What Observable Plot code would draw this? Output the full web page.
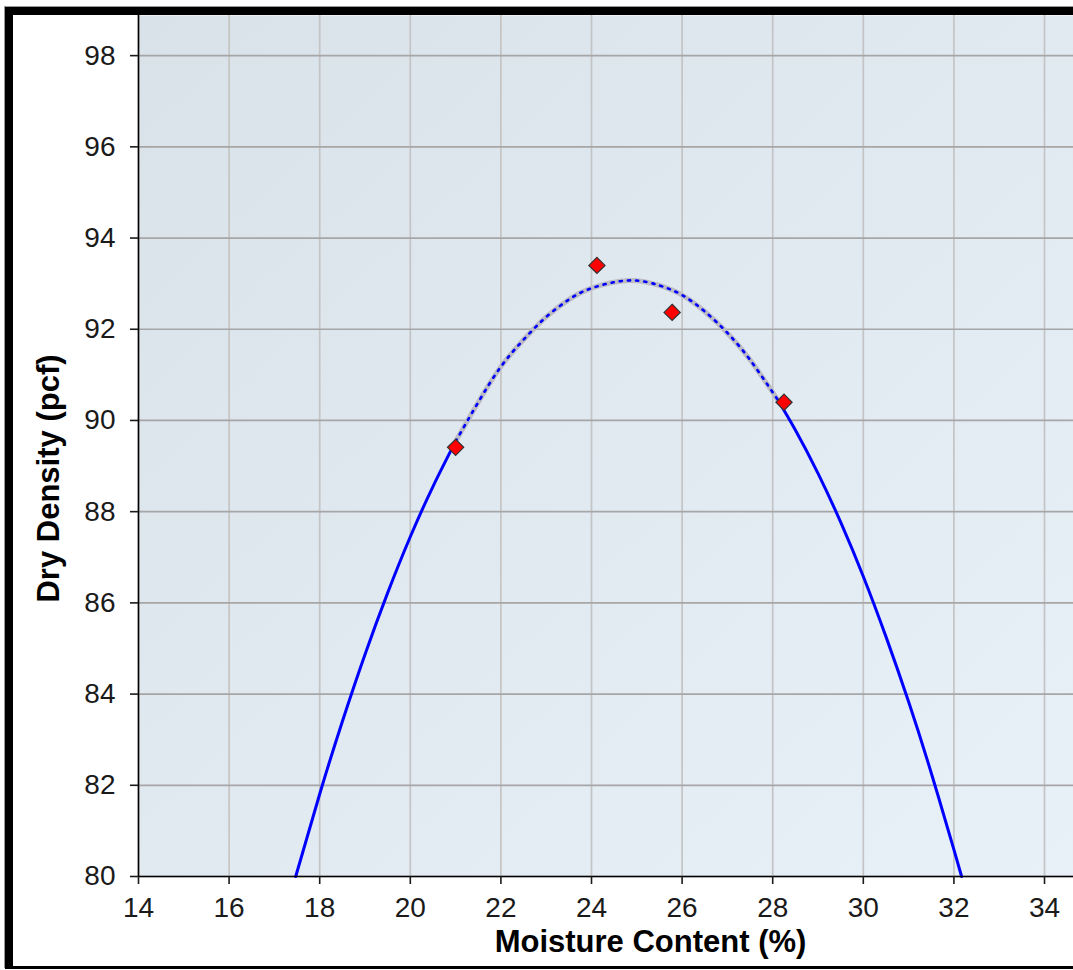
<!DOCTYPE html>
<html>
<head>
<meta charset="utf-8">
<script src="https://cdn.jsdelivr.net/npm/d3@7"></script>
<script src="https://cdn.jsdelivr.net/npm/@observablehq/plot@0.6"></script>
<style>
  html, body { margin: 0; padding: 0; background: #fff; overflow: hidden; }
  #frame {
    position: absolute; left: 5px; top: 7px;
    width: 1080px; height: 951px;
    border-top: 8px solid #000; border-left: 8px solid #000; border-bottom: 3px solid #000;
    box-shadow: -1px -1px 0 #9a9a9a;
    background: #fff;
  }
  #frame svg { display: block; }
</style>
</head>
<body>
<div id="frame"></div>
<script>
// ---- data ----
const xTicks = [14, 16, 18, 20, 22, 24, 26, 28, 30, 32, 34];
const yTicks = [80, 82, 84, 86, 88, 90, 92, 94, 96, 98];

// measured points (moisture %, dry density pcf)
const moisture = [21.0, 24.12, 25.78, 28.25];
const density  = [89.41, 93.40, 92.37, 90.40];

// fitted curve in three pieces
const fitLeftX  = [17.47, 18.0, 18.5, 19.0, 19.5, 20.0, 20.5, 21.0];
const fitLeftY  = [80.0, 81.81, 83.40, 84.87, 86.22, 87.45, 88.55, 89.54];
const fitMidX   = [21.0, 21.5, 22, 22.5, 23, 23.5, 24, 24.82, 25.5, 26, 26.5, 27, 27.5, 28.1];
const fitMidY   = [89.54, 90.40, 91.18, 91.77, 92.27, 92.65, 92.90, 93.07, 92.96, 92.75, 92.39, 91.92, 91.33, 90.47];
const fitRightX = [28.1, 28.5, 29.0, 29.5, 30.0, 30.5, 31.0, 31.5, 32.0, 32.17];
const fitRightY = [90.47, 89.79, 88.84, 87.77, 86.58, 85.26, 83.83, 82.27, 80.59, 80.0];

const xTitle = "Moisture Content (%)";
const yTitle = "Dry Density (pcf)";

// ---- build tables ----
const pts = moisture.map((m, i) => ({x: m, y: density[i]}));
const seg = (xs, ys) => xs.map((v, i) => ({x: v, y: ys[i]}));
const left = seg(fitLeftX, fitLeftY);
const mid = seg(fitMidX, fitMidY);
const right = seg(fitRightX, fitRightY);

const W = 1060, H = 951;
const mL = 125, mR = 0, mT = 0, mB = 90;
const font = "'Liberation Sans', Arial, Helvetica, sans-serif";

const chart = Plot.plot({
  width: W, height: H,
  marginLeft: mL, marginRight: mR, marginTop: mT, marginBottom: mB,
  style: {fontFamily: font, background: "transparent", overflow: "visible"},
  x: {domain: [14, 34.64], axis: null},
  y: {domain: [80, 98.88], axis: null},
  marks: [
    Plot.frame({fill: "url(#bgGrad)", stroke: null}),
    Plot.gridX(xTicks, {stroke: "#c4c4c4", strokeOpacity: 1, strokeWidth: 1.7}),
    Plot.gridY(yTicks, {stroke: "#a6a6a6", strokeOpacity: 1, strokeWidth: 1.7}),
    Plot.line(left, {x: "x", y: "y", curve: "natural", stroke: "#0000ff", strokeWidth: 3}),
    Plot.line(right, {x: "x", y: "y", curve: "natural", stroke: "#0000ff", strokeWidth: 3}),
    Plot.line(mid, {x: "x", y: "y", curve: "natural", stroke: "#bcbcc2", strokeWidth: 5}),
    Plot.line(mid, {x: "x", y: "y", curve: "natural", stroke: "#0000ff", strokeWidth: 2.6, strokeDasharray: "2.2,6"}),
    Plot.dot(pts, {x: "x", y: "y", symbol: "diamond2", r: 7.3, fill: "#ff0000", stroke: "#333", strokeWidth: 1.2}),
    Plot.ruleX([14], {stroke: "#000", strokeWidth: 1.6}),
    Plot.ruleY([80], {stroke: "#000", strokeWidth: 1.6}),
    Plot.axisX(xTicks, {tickSize: 8, tickPadding: 13, fontSize: 28, color: "#1a1a1a", strokeWidth: 1.6, label: null, tickFormat: d => String(d)}),
    Plot.axisY(yTicks, {tickSize: 8, tickPadding: 15, fontSize: 28, color: "#1a1a1a", strokeWidth: 1.6, label: null, tickFormat: d => String(d)}),
    Plot.text([xTitle], {frameAnchor: "bottom", textAnchor: "middle", dx: 637 - (mL + W) / 2, dy: 75, lineAnchor: "bottom", fontSize: 31, fontWeight: "bold", fill: "#000"}),
    Plot.text([yTitle], {frameAnchor: "left", textAnchor: "middle", rotate: -90, dx: -80, dy: 32.5, lineAnchor: "bottom", fontSize: 31, fontWeight: "bold", fill: "#000"})
  ]
});

// gradient background for the plotting area
const svg = d3.select(chart);
const defs = svg.insert("defs", ":first-child");
const grad = defs.append("linearGradient").attr("id", "bgGrad")
  .attr("x1", "0").attr("y1", "0").attr("x2", "1").attr("y2", "1");
grad.append("stop").attr("offset", "0%").attr("stop-color", "#d9e1e9");
grad.append("stop").attr("offset", "100%").attr("stop-color", "#e8f0f8");

document.getElementById("frame").appendChild(chart);
</script>
</body>
</html>
